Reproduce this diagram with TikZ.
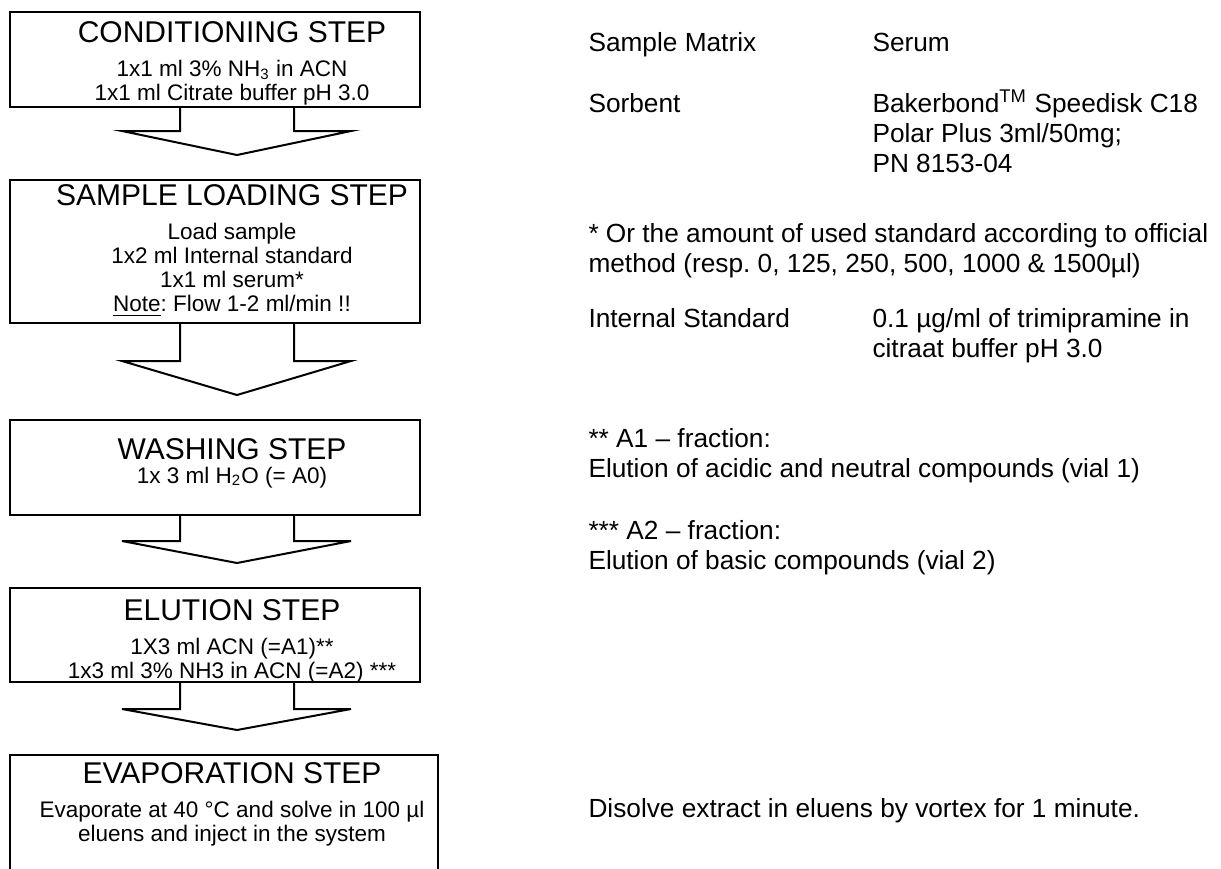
\documentclass[tikz,border=0pt]{standalone}
\usepackage{fontspec}
\setmainfont{Liberation Sans}
\frenchspacing
\usepackage{tikz}
\usetikzlibrary{positioning,fit,calc}
\newcommand{\stitle}[1]{{\fontsize{12}{14}\selectfont #1}}
\tikzset{
  stepbox/.style={rectangle,draw=black,line width=0.8pt,inner sep=0pt},
  steptxt/.style={align=center,anchor=north,inner sep=0pt,font=\fontsize{9}{9.6}\selectfont},
  sidetxt/.style={align=left,anchor=base west,inner sep=0pt,font=\fontsize{10.5}{12}\selectfont},
  blockarrow/.style={draw=black,line width=0.8pt,line join=miter},
}
\begin{document}
\begin{tikzpicture}[x=0.4pt,y=-0.4pt]
  \useasboundingbox (0,0) rectangle (1221,868);
  \clip (0,0) rectangle (1221,868);
  % step boxes
  \node[stepbox,fit={(10,12) (420,107)}] (cond) {};
  \node[stepbox,fit={(10,180) (420,323)}] (load) {};
  \node[stepbox,fit={(10,420) (420,515)}] (wash) {};
  \node[stepbox,fit={(10,588) (420,682)}] (elut) {};
  \node[stepbox,fit={(10,755) (438,890)}] (evap) {};
  % box texts
  \node[steptxt] (condtxt) at (232,20.6) {\stitle{CONDITIONING STEP}\\[4.2pt]1x1 ml 3\% NH\textsubscript{3} in ACN\\1x1 ml Citrate buffer pH 3.0};
  \node[steptxt] (loadtxt) at (232,183.6) {\stitle{SAMPLE LOADING STEP}\\[4.2pt]Load sample\\1x2 ml Internal standard\\1x1 ml serum*\\\underline{Note}: Flow 1-2 ml/min !!};
  \node[steptxt] (washtxt) at (232,437.6) {\stitle{WASHING STEP}\\[0pt]1x 3 ml H\textsubscript{2}O (= A0)};
  \node[steptxt] (eluttxt) at (232,598.6) {\stitle{ELUTION STEP}\\[4.2pt]1X3 ml ACN (=A1)**\\1x3 ml 3\% NH3 in ACN (=A2) ***};
  \node[steptxt] (evaptxt) at (232,761.6) {\stitle{EVAPORATION STEP}\\[4.2pt]Evaporate at 40 °C and solve in 100 µl\\eluens and inject in the system};
  % block arrows between steps
  \foreach \from/\to/\stemlen in {cond/load/23,load/wash/37,wash/elut/25,elut/evap/26}
    \draw[blockarrow] ($(\from.south west)+(171,0)$) -- ++(0,\stemlen) -- ++(-58,0)
      -- ($(\to.north west)+(228,-24)$) -- ($(\from.south west)+(342,\stemlen)$)
      -- ++(-57,0) -- ++(0,-\stemlen);
  % notes on the right (base = last line)
  \node[sidetxt] (matrix) at (588,51.5) {Sample Matrix};
  \node[sidetxt] (serum) at (872,51.5) {Serum};
  \node[sidetxt] (sorbent) at (588,112.5) {Sorbent};
  \node[sidetxt] (column) at (872,172.5) {Bakerbond\textsuperscript{TM} Speedisk C18\\Polar Plus 3ml/50mg;\\PN 8153-04};
  \node[sidetxt] (amount) at (588,272.5) {* Or the amount of used standard according to official\\method (resp. 0, 125, 250, 500, 1000 \& 1500µl)};
  \node[sidetxt] (istd) at (588,327.5) {Internal Standard};
  \node[sidetxt] (istdval) at (872,357.5) {0.1 µg/ml of trimipramine in\\citraat buffer pH 3.0};
  \node[sidetxt] (fracone) at (588,477.5) {** A1 – fraction:\\Elution of acidic and neutral compounds (vial 1)};
  \node[sidetxt] (fractwo) at (588,569.5) {*** A2 – fraction:\\Elution of basic compounds (vial 2)};
  \node[sidetxt] (dissolve) at (588,817.5) {Disolve extract in eluens by vortex for 1 minute.};
\end{tikzpicture}
\end{document}
